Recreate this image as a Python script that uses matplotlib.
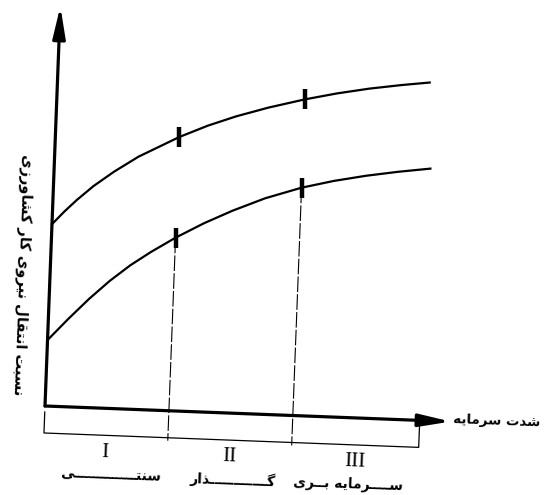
import matplotlib
matplotlib.use("Agg")
import matplotlib.pyplot as plt
from matplotlib.transforms import Affine2D

# curve points (capital intensity, share of farm labour moving out)
upper_x = [0, 3, 6, 10, 15, 21, 31, 38, 45, 53, 62, 70, 78, 86, 93]
upper_y = [45.5, 48.8, 51.8, 55.4, 59.2, 63.2, 68.5, 71.6, 74.2, 76.7, 79.1, 80.9, 82.4, 83.6, 84.5]
lower_x = [0, 5, 10, 15, 20, 25, 31, 38, 45, 53, 62, 70, 78, 86, 94]
lower_y = [16.5, 22.0, 27.2, 31.9, 36.0, 39.5, 43.3, 47.2, 50.6, 54.0, 57.0, 59.0, 60.6, 61.9, 63.0]

# stage boundaries on the capital axis
stage_edges = [0, 31, 62, 93.75]
stage_names = ["I", "II", "III"]
stage_labels = ["سنتـــــــــــــی", "گــــــــــــذار", "ســــرمایه بــری"]

x_label = "شدت سرمایه"
y_label = "نسبت انتقال نیروی کار کشاورزی"

# arabic presentation forms: isolated, final, initial, medial
FORMS = {
    "\u0627": (0xFE8D, 0xFE8E),
    "\u062F": (0xFEA9, 0xFEAA),
    "\u0630": (0xFEAB, 0xFEAC),
    "\u0631": (0xFEAD, 0xFEAE),
    "\u0632": (0xFEAF, 0xFEB0),
    "\u0648": (0xFEED, 0xFEEE),
    "\u0628": (0xFE8F, 0xFE90, 0xFE91, 0xFE92),
    "\u062A": (0xFE95, 0xFE96, 0xFE97, 0xFE98),
    "\u0633": (0xFEB1, 0xFEB2, 0xFEB3, 0xFEB4),
    "\u0634": (0xFEB5, 0xFEB6, 0xFEB7, 0xFEB8),
    "\u0642": (0xFED5, 0xFED6, 0xFED7, 0xFED8),
    "\u0644": (0xFEDD, 0xFEDE, 0xFEDF, 0xFEE0),
    "\u0645": (0xFEE1, 0xFEE2, 0xFEE3, 0xFEE4),
    "\u0646": (0xFEE5, 0xFEE6, 0xFEE7, 0xFEE8),
    "\u0647": (0xFEE9, 0xFEEA, 0xFEEB, 0xFEEC),
    "\u06CC": (0xFBFC, 0xFBFD, 0xFBFE, 0xFBFF),
    "\u06A9": (0xFB8E, 0xFB8F, 0xFB90, 0xFB91),
    "\u06AF": (0xFB92, 0xFB93, 0xFB94, 0xFB95),
    "\u0640": (0x0640, 0x0640, 0x0640, 0x0640),
}


def shape(s):
    s = s.replace("\u064A", "\u06CC").replace("\u0643", "\u06A9")
    out = []
    for i, ch in enumerate(s):
        f = FORMS.get(ch)
        if f is None:
            out.append(ch)
            continue
        prev = FORMS.get(s[i - 1]) if i > 0 else None
        nxt = FORMS.get(s[i + 1]) if i + 1 < len(s) else None
        a = prev is not None and len(prev) == 4
        b = len(f) == 4 and nxt is not None
        if a and b:
            c = f[3]
        elif a:
            c = f[1]
        elif b:
            c = f[2]
        else:
            c = f[0]
        out.append(chr(c))
    return "".join(reversed(out))


fig = plt.figure(figsize=(5.48, 4.95), dpi=100)
ax = fig.add_axes([0, 0, 1, 1])
ax.set_xlim(-45 / 4, (548 - 45) / 4)
ax.set_ylim(-89 / 4, 406 / 4)
ax.axis("off")

tilt = -2.2
tr = Affine2D().rotate_deg(tilt) + ax.transData
fa = ["DejaVu Sans"]

# axes with arrows
arrow = dict(arrowstyle="-|>,head_length=1.9,head_width=0.38", lw=2.3,
             color="black", shrinkA=0, shrinkB=0, mutation_scale=10)
ax.annotate("", xy=(0, 100), xytext=(0, 0), xycoords=tr, textcoords=tr, arrowprops=arrow)
ax.annotate("", xy=(101.5, 0), xytext=(0, 0), xycoords=tr, textcoords=tr, arrowprops=arrow)

# curves and stage marks
ax.plot(upper_x, upper_y, color="black", lw=1.6, transform=tr, solid_joinstyle="round")
ax.plot(lower_x, lower_y, color="black", lw=1.6, transform=tr, solid_joinstyle="round")
ticks = stage_edges[1:3]
up_t = [upper_y[upper_x.index(t)] for t in ticks]
lo_t = [lower_y[lower_x.index(t)] for t in ticks]
ax.plot(ticks, up_t, "|", color="black", ms=15, mew=3.2, transform=tr)
ax.plot(ticks, lo_t, "|", color="black", ms=15, mew=3.2, transform=tr)
for t, v in zip(ticks, lo_t):
    ax.plot([t, t], [v, -7.5], color="black", lw=0.8, ls=(0, (14, 2)), transform=tr)

# bracket under the axis
yb = -6.75
ax.plot([stage_edges[0], stage_edges[0], stage_edges[-1], stage_edges[-1]],
        [-1.5, yb, yb, -1.25], color="black", lw=0.9, transform=tr)

for i in range(3):
    mid = (stage_edges[i] + stage_edges[i + 1]) / 2
    ax.text(mid, -11, stage_names[i], transform=tr, rotation=tilt, rotation_mode="anchor",
            ha="center", va="center", fontsize=15, family="Liberation Serif")

label_x = [17, 47.5, 76.5]
for i in range(3):
    ax.text(label_x[i], -16.6, shape(stage_labels[i]), transform=tr, rotation=tilt,
            rotation_mode="anchor", ha="center", va="center", fontsize=10,
            fontweight="bold", family=fa)

ax.text(102.2, 0.6, shape(x_label), transform=tr, rotation=tilt, rotation_mode="anchor",
        ha="left", va="center", fontsize=9.6, fontweight="bold", family=fa)
ax.text(-7.0, 32.5, shape(y_label), transform=tr, rotation=-90 + tilt, rotation_mode="anchor",
        ha="center", va="center", fontsize=10.5, fontweight="bold", family=fa)

fig.savefig("out.png", dpi=100)
